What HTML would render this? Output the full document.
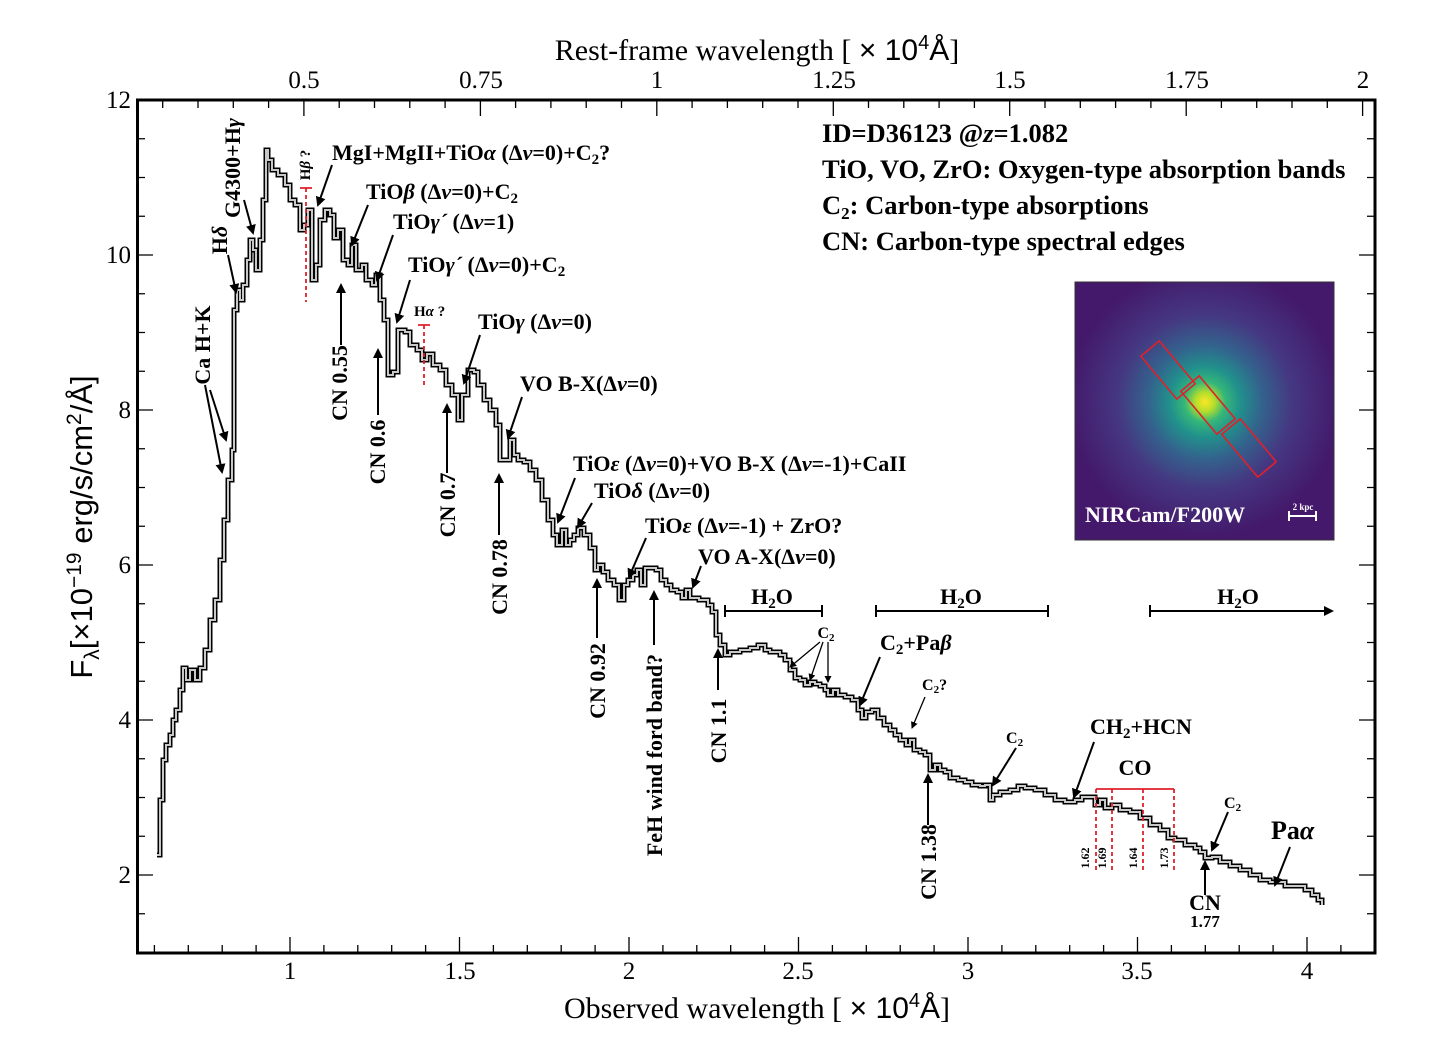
<!DOCTYPE html>
<html><head><meta charset="utf-8">
<style>
html,body{margin:0;padding:0;background:#fff;}
svg{display:block;}
.t{font-family:"Liberation Serif",serif;font-weight:bold;fill:#000;}
.n{font-family:"Liberation Serif",serif;fill:#000;font-size:25px;}
</style></head>
<body>
<svg width="1438" height="1045" viewBox="0 0 1438 1045" xmlns="http://www.w3.org/2000/svg">
<defs>
<radialGradient id="g" cx="1205" cy="402" r="135" gradientUnits="userSpaceOnUse">
<stop offset="0" stop-color="#fde725"/>
<stop offset="0.07" stop-color="#b5de2b"/>
<stop offset="0.15" stop-color="#35b779"/>
<stop offset="0.26" stop-color="#21918c"/>
<stop offset="0.42" stop-color="#33638d"/>
<stop offset="0.65" stop-color="#453781"/>
<stop offset="1" stop-color="#44196b"/>
</radialGradient>
<marker id="ah" markerWidth="10" markerHeight="10" refX="8" refY="5" orient="auto" markerUnits="userSpaceOnUse"><path d="M0,0 L10,5 L0,10 z" fill="#000"/></marker>
<marker id="ahs" markerWidth="7" markerHeight="7" refX="6" refY="3.5" orient="auto" markerUnits="userSpaceOnUse"><path d="M0,0 L7,3.5 L0,7 z" fill="#000"/></marker>
<path id="sp" d="M157,855 H160 V800 H163 V760 H166 V745 H170 V735 H173 V720 H176 V710 H180 V690 H183 V668 H186 V680 H190 V670 H195 V680 H200 V668 H205 V650 H210 V620 H215 V600 H220 V560 H224 V520 H228 V480 H232 V450 H234 V310 H237 V290 H240 V300 H243 V285 H247 V260 H250 V240 H253 V250 H256 V270 H260 V240 H263 V200 H266 V150 H268 V160 H272 V170 H278 V175 H285 V185 H290 V200 H295 V205 H300 V230 H304 V225 H308 V210 H312 V280 H316 V265 H320 V220 H325 V210 H330 V215 H334 V238 H338 V230 H343 V260 H348 V265 H352 V245 H356 V270 H362 V265 H366 V280 H372 V285 H376 V275 H380 V300 H384 V320 H388 V375 H393 V372 H398 V330 H405 V332 H410 V345 H417 V350 H422 V360 H427 V354 H433 V365 H440 V370 H446 V385 H452 V395 H458 V420 H462 V395 H468 V370 H474 V372 H478 V385 H484 V400 H490 V410 H496 V425 H500 V460 H504 V460 H510 V440 H514 V455 H518 V460 H524 V462 H530 V470 H536 V480 H542 V500 H548 V520 H553 V535 H557 V545 H562 V530 H566 V545 H570 V540 H574 V535 H578 V528 H584 V535 H590 V548 H595 V570 H598 V565 H603 V572 H608 V580 H614 V585 H619 V600 H624 V585 H628 V580 H633 V575 H637 V570 H641 V585 H645 V568 H651 V568 H656 V570 H661 V580 H666 V585 H671 V590 H677 V592 H682 V598 H686 V590 H690 V598 H694 V598 H699 V600 H703 V600 H708 V605 H712 V612 H716 V635 H720 V645 H725 V655 H730 V652 H740 V650 H750 V648 H758 V645 H765 V650 H770 V652 H780 V655 H785 V660 H790 V670 H795 V678 H800 V680 H805 V685 H810 V682 H815 V684 H820 V686 H825 V690 H828 V695 H833 V690 H838 V695 H845 V697 H852 V700 H858 V710 H862 V718 H866 V712 H872 V710 H878 V718 H884 V725 H890 V730 H895 V735 H900 V740 H906 V745 H910 V740 H914 V750 H920 V752 H925 V755 H930 V770 H935 V765 H940 V770 H945 V772 H950 V778 H958 V780 H965 V782 H972 V785 H980 V786 H985 V785 H990 V800 H993 V795 H1000 V792 H1010 V790 H1018 V786 H1025 V788 H1035 V790 H1045 V795 H1055 V800 H1065 V802 H1075 V800 H1082 V797 H1090 V797 H1095 V805 H1100 V800 H1105 V808 H1112 V805 H1120 V810 H1130 V812 H1140 V818 H1150 V825 H1160 V830 H1168 V838 H1175 V840 H1185 V845 H1195 V848 H1200 V852 H1205 V858 H1212 V857 H1220 V862 H1230 V866 H1240 V870 H1250 V875 H1260 V880 H1270 V882 H1278 V882 H1285 V886 H1295 V886 H1305 V890 H1312 V895 H1318 V900 H1322 V905"/>
</defs>

<!-- ticks -->
<g stroke="#000" stroke-width="1.3" fill="none">
<path d="M154.4,953v-8 M188.3,953v-8 M222.2,953v-8 M256.1,953v-8 M290,953v-16 M323.9,953v-8 M357.8,953v-8 M391.7,953v-8 M425.6,953v-8 M459.5,953v-16 M493.4,953v-8 M527.3,953v-8 M561.2,953v-8 M595.1,953v-8 M629,953v-16 M662.9,953v-8 M696.8,953v-8 M730.7,953v-8 M764.6,953v-8 M798.5,953v-16 M832.4,953v-8 M866.3,953v-8 M900.2,953v-8 M934.1,953v-8 M968,953v-16 M1001.9,953v-8 M1035.8,953v-8 M1069.7,953v-8 M1103.6,953v-8 M1137.5,953v-16 M1171.4,953v-8 M1205.3,953v-8 M1239.2,953v-8 M1273.1,953v-8 M1307,953v-16 M1340.9,953v-8"/>
<path d="M162.7,100v8 M198,100v8 M233.3,100v8 M268.6,100v8 M303.9,100v16 M339.2,100v8 M374.5,100v8 M409.8,100v8 M445.1,100v8 M480.4,100v16 M515.6,100v8 M550.9,100v8 M586.2,100v8 M621.5,100v8 M656.8,100v16 M692.1,100v8 M727.4,100v8 M762.7,100v8 M798,100v8 M833.3,100v16 M868.5,100v8 M903.8,100v8 M939.1,100v8 M974.4,100v8 M1009.7,100v16 M1045,100v8 M1080.3,100v8 M1115.6,100v8 M1150.9,100v8 M1186.2,100v16 M1221.4,100v8 M1256.7,100v8 M1292,100v8 M1327.3,100v8 M1362.6,100v16"/>
<path d="M137,913.75h8 M137,875h16 M137,836.25h8 M137,797.5h8 M137,758.75h8 M137,720h16 M137,681.25h8 M137,642.5h8 M137,603.75h8 M137,565h16 M137,526.25h8 M137,487.5h8 M137,448.75h8 M137,410h16 M137,371.25h8 M137,332.5h8 M137,293.75h8 M137,255h16 M137,216.25h8 M137,177.5h8 M137,138.75h8"/>
<path d="M1375,913.75h-8 M1375,875h-16 M1375,836.25h-8 M1375,797.5h-8 M1375,758.75h-8 M1375,720h-16 M1375,681.25h-8 M1375,642.5h-8 M1375,603.75h-8 M1375,565h-16 M1375,526.25h-8 M1375,487.5h-8 M1375,448.75h-8 M1375,410h-16 M1375,371.25h-8 M1375,332.5h-8 M1375,293.75h-8 M1375,255h-16 M1375,216.25h-8 M1375,177.5h-8 M1375,138.75h-8"/>
</g>

<!-- spectrum -->
<use href="#sp" fill="none" stroke="#000" stroke-width="5"/>
<use href="#sp" fill="none" stroke="#c8c8c8" stroke-width="2"/>
<rect x="137.5" y="100" width="1237.5" height="853" fill="none" stroke="#000" stroke-width="3"/>

<!-- tick labels -->
<g class="n" text-anchor="middle">
<text x="290" y="979">1</text><text x="460" y="979">1.5</text><text x="629" y="979">2</text><text x="798" y="979">2.5</text><text x="968" y="979">3</text><text x="1137" y="979">3.5</text><text x="1307" y="979">4</text>
<text x="304" y="88">0.5</text><text x="481" y="88">0.75</text><text x="657" y="88">1</text><text x="834" y="88">1.25</text><text x="1010" y="88">1.5</text><text x="1187" y="88">1.75</text><text x="1363" y="88">2</text>
</g>
<g class="n" text-anchor="end">
<text x="131" y="108">12</text><text x="131" y="263">10</text><text x="131" y="418">8</text><text x="131" y="573">6</text><text x="131" y="728">4</text><text x="131" y="883">2</text>
</g>
<text x="757" y="1018" text-anchor="middle" font-size="30" font-family="Liberation Serif,serif">Observed wavelength [ <tspan font-family="Liberation Sans,sans-serif">× 10<tspan dy="-11" font-size="20">4</tspan><tspan dy="11">Å</tspan></tspan>]</text>
<text x="757" y="60" text-anchor="middle" font-size="30" font-family="Liberation Serif,serif">Rest-frame wavelength [ <tspan font-family="Liberation Sans,sans-serif">× 10<tspan dy="-11" font-size="20">4</tspan><tspan dy="11">Å</tspan></tspan>]</text>
<text transform="translate(92,527) rotate(-90)" text-anchor="middle" font-size="31" font-family="Liberation Sans,sans-serif">F<tspan dy="7" font-size="21">λ</tspan><tspan dy="-7">[×10</tspan><tspan dy="-11" font-size="21">−19</tspan><tspan dy="11"> erg/s/cm</tspan><tspan dy="-11" font-size="21">2</tspan><tspan dy="11">/Å]</tspan></text>

<!-- top right text -->
<g class="t" font-size="26.5">
<text x="822" y="142">ID=D36123 @<tspan font-style="italic">z</tspan>=1.082</text>
<text x="822" y="178">TiO, VO, ZrO: Oxygen-type absorption bands</text>
<text x="822" y="214">C<tspan font-size="17" dy="5">2</tspan><tspan dy="-5">: Carbon-type absorptions</tspan></text>
<text x="822" y="250">CN: Carbon-type spectral edges</text>
</g>

<!-- inset -->
<rect x="1075" y="282" width="259" height="258" fill="url(#g)"/>
<rect x="1075" y="282" width="259" height="258" fill="none" stroke="#333" stroke-width="1"/>
<g fill="none" stroke="#e0202a" stroke-width="1.6">
<rect x="-28" y="-12" width="56" height="24" transform="translate(1168,370) rotate(50)"/>
<rect x="-28" y="-12" width="56" height="24" transform="translate(1208,405) rotate(50)"/>
<rect x="-28" y="-12" width="56" height="24" transform="translate(1249,448) rotate(50)"/>
</g>
<text x="1085" y="522" class="t" font-size="22" style="fill:#fff">NIRCam/F200W</text>
<text x="1303" y="510" class="t" font-size="9" text-anchor="middle" style="fill:#fff">2 kpc</text>
<path d="M1289,516 H1316 M1289,511 V521 M1316,511 V521" stroke="#fff" stroke-width="2"/>

<!-- arrows -->
<g stroke="#000" stroke-width="2" fill="none" marker-end="url(#ah)">
<line x1="205" y1="385" x2="222" y2="472"/>
<line x1="210" y1="390" x2="226" y2="440"/>
<line x1="228" y1="255" x2="236" y2="292"/>
<line x1="244" y1="200" x2="253" y2="233"/>
<line x1="332" y1="165" x2="318" y2="205"/>
<line x1="368" y1="205" x2="352" y2="245"/>
<line x1="393" y1="235" x2="377" y2="280"/>
<line x1="410" y1="280" x2="397" y2="322"/>
<line x1="480" y1="335" x2="464" y2="383"/>
<line x1="522" y1="397" x2="508" y2="438"/>
<line x1="575" y1="478" x2="558" y2="522"/>
<line x1="592" y1="503" x2="578" y2="527"/>
<line x1="646" y1="538" x2="629" y2="577"/>
<line x1="701" y1="566" x2="693" y2="587"/>
<line x1="341" y1="345" x2="341" y2="285"/>
<line x1="378" y1="415" x2="378" y2="350"/>
<line x1="447" y1="473" x2="447" y2="405"/>
<line x1="499" y1="535" x2="499" y2="475"/>
<line x1="597" y1="638" x2="597" y2="580"/>
<line x1="654" y1="645" x2="654" y2="592"/>
<line x1="718" y1="690" x2="718" y2="650"/>
<line x1="928" y1="825" x2="928" y2="775"/>
<line x1="1205" y1="895" x2="1205" y2="862"/>
<line x1="880" y1="657" x2="860" y2="705"/>
<line x1="1016" y1="748" x2="993" y2="785"/>
<line x1="1094" y1="742" x2="1074" y2="797"/>
<line x1="1228" y1="812" x2="1212" y2="850"/>
<line x1="1290" y1="847" x2="1275" y2="885"/>
<line x1="1150" y1="611" x2="1332" y2="611"/>
</g>
<g stroke="#000" stroke-width="1.3" fill="none" marker-end="url(#ahs)">
<line x1="820" y1="642" x2="790" y2="667"/>
<line x1="823" y1="642" x2="810" y2="680"/>
<line x1="828" y1="642" x2="828" y2="682"/>
<line x1="925" y1="697" x2="912" y2="728"/>
</g>
<path d="M725,611 H822 M725,605 V617 M822,605 V617 M876,611 H1048 M876,605 V617 M1048,605 V617 M1150,605 V617" stroke="#000" stroke-width="2" fill="none"/>

<g class="t" font-size="22">
<text transform="translate(210,345) rotate(-90)" text-anchor="middle">Ca H+K</text>
<text transform="translate(227,240) rotate(-90)" text-anchor="middle">H<tspan font-style="italic">δ</tspan></text>
<text transform="translate(240,168) rotate(-90)" text-anchor="middle">G4300+H<tspan font-style="italic">γ</tspan></text>
<text transform="translate(310,165) rotate(-90)" text-anchor="middle" font-size="15">H<tspan font-style="italic">β</tspan> ?</text>
<text x="332" y="160">MgI+MgII+TiO<tspan font-style="italic">α</tspan> (Δ<tspan font-style="italic">ν</tspan>=0)+C<tspan font-size="15" dy="4">2</tspan><tspan dy="-4">?</tspan></text>
<text x="366" y="199">TiO<tspan font-style="italic">β</tspan> (Δ<tspan font-style="italic">ν</tspan>=0)+C<tspan font-size="15" dy="4">2</tspan></text>
<text x="393" y="229">TiO<tspan font-style="italic">γ´</tspan> (Δ<tspan font-style="italic">ν</tspan>=1)</text>
<text x="408" y="272">TiO<tspan font-style="italic">γ´</tspan> (Δ<tspan font-style="italic">ν</tspan>=0)+C<tspan font-size="15" dy="4">2</tspan></text>
<text x="414" y="316" font-size="15">H<tspan font-style="italic">α</tspan> ?</text>
<text x="478" y="329">TiO<tspan font-style="italic">γ</tspan> (Δ<tspan font-style="italic">ν</tspan>=0)</text>
<text x="520" y="391">VO B-X(Δ<tspan font-style="italic">ν</tspan>=0)</text>
<text x="573" y="471">TiO<tspan font-style="italic">ε</tspan> (Δ<tspan font-style="italic">ν</tspan>=0)+VO B-X (Δ<tspan font-style="italic">ν</tspan>=-1)+CaII</text>
<text x="594" y="498">TiO<tspan font-style="italic">δ</tspan> (Δ<tspan font-style="italic">ν</tspan>=0)</text>
<text x="645" y="533">TiO<tspan font-style="italic">ε</tspan> (Δ<tspan font-style="italic">ν</tspan>=-1) + ZrO?</text>
<text x="698" y="564">VO A-X(Δ<tspan font-style="italic">ν</tspan>=0)</text>
<text transform="translate(347,383) rotate(-90)" text-anchor="middle">CN 0.55</text>
<text transform="translate(385,452) rotate(-90)" text-anchor="middle">CN 0.6</text>
<text transform="translate(455,505) rotate(-90)" text-anchor="middle">CN 0.7</text>
<text transform="translate(507,577) rotate(-90)" text-anchor="middle">CN 0.78</text>
<text transform="translate(605,681) rotate(-90)" text-anchor="middle">CN 0.92</text>
<text transform="translate(662,755) rotate(-90)" text-anchor="middle">FeH wind ford band?</text>
<text transform="translate(726,731) rotate(-90)" text-anchor="middle">CN 1.1</text>
<text transform="translate(936,862) rotate(-90)" text-anchor="middle">CN 1.38</text>
<text x="772" y="604" text-anchor="middle">H<tspan font-size="15" dy="4">2</tspan><tspan dy="-4">O</tspan></text>
<text x="961" y="604" text-anchor="middle">H<tspan font-size="15" dy="4">2</tspan><tspan dy="-4">O</tspan></text>
<text x="1238" y="604" text-anchor="middle">H<tspan font-size="15" dy="4">2</tspan><tspan dy="-4">O</tspan></text>
<text x="826" y="638" font-size="16" text-anchor="middle">C<tspan font-size="11" dy="3">2</tspan></text>
<text x="880" y="650">C<tspan font-size="15" dy="4">2</tspan><tspan dy="-4">+Pa</tspan><tspan font-style="italic">β</tspan></text>
<text x="922" y="690" font-size="16">C<tspan font-size="11" dy="3">2</tspan><tspan dy="-3">?</tspan></text>
<text x="1006" y="743" font-size="16">C<tspan font-size="11" dy="3">2</tspan></text>
<text x="1090" y="734">CH<tspan font-size="15" dy="4">2</tspan><tspan dy="-4">+HCN</tspan></text>
<text x="1135" y="775" text-anchor="middle">CO</text>
<text x="1224" y="808" font-size="16">C<tspan font-size="11" dy="3">2</tspan></text>
<text x="1205" y="910" text-anchor="middle">CN</text>
<text x="1205" y="927" text-anchor="middle" font-size="17">1.77</text>
<text x="1271" y="839" font-size="26">Pa<tspan font-style="italic">α</tspan></text>
<text transform="translate(1089,858) rotate(-90)" text-anchor="middle" font-size="12">1.62</text>
<text transform="translate(1106,858) rotate(-90)" text-anchor="middle" font-size="12">1.69</text>
<text transform="translate(1137,858) rotate(-90)" text-anchor="middle" font-size="12">1.64</text>
<text transform="translate(1168,858) rotate(-90)" text-anchor="middle" font-size="12">1.73</text>
</g>
<g stroke="#e0202a" stroke-width="1.8" fill="none">
<path d="M1096,789 H1174"/>
<path d="M1096,789 V872 M1112,789 V872 M1143,789 V872 M1174,789 V872 M306,188 V302 M424,325 V385" stroke-dasharray="4,3"/>
<path d="M300,188 H312 M418,325 H430"/>
</g>
</svg>
</body></html>
